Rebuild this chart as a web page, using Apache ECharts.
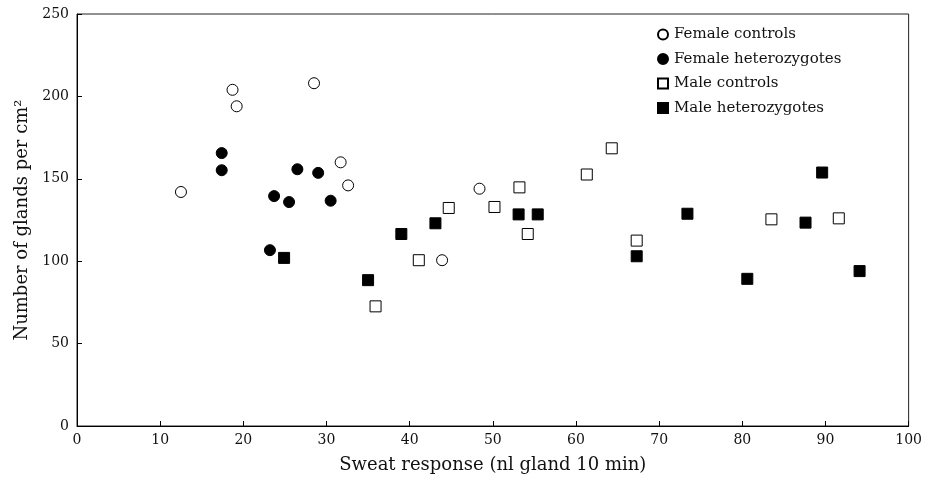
<!DOCTYPE html>
<html><head><meta charset="utf-8">
<script src="https://cdn.jsdelivr.net/npm/echarts@6/dist/echarts.min.js"></script>
<style>html,body{margin:0;padding:0;background:#fff}#c{width:925px;height:479px}</style>
</head><body><div id="c"></div>
<script>
var xTicks = [0,10,20,30,40,50,60,70,80,90,100];
var yTicks = [0,50,100,150,200,250];
var femaleControls = [[12.5,142],[18.7,204],[19.2,194],[28.5,208],[31.7,160],[32.6,146],[48.4,144],[43.9,100.6]];
var femaleHetero = [[17.4,165.6],[17.4,155.2],[26.5,155.8],[29.0,153.6],[23.7,139.5],[25.5,135.9],[30.5,136.7],[23.2,106.7]];
var maleControls = [[64.3,168.5],[61.3,152.6],[53.2,144.8],[44.7,132.3],[50.2,132.9],[54.2,116.5],[41.1,100.6],[67.3,112.5],[35.9,72.6],[83.5,125.4],[91.6,126]];
var maleHetero = [[24.9,102],[35.0,88.5],[39.0,116.5],[43.1,123],[53.1,128.4],[55.4,128.4],[67.3,103],[73.4,128.8],[89.6,153.8],[87.6,123.4],[80.6,89.3],[94.1,94]];
var names = ['Female controls','Female heterozygotes','Male controls','Male heterozygotes'];

var font = 'DejaVu Serif';
var chart = echarts.init(document.getElementById('c'));
function ser(name, data, symbol, filled){
  return {name:name, type:'scatter', data:data, symbol:symbol, symbolSize:11,
    itemStyle:{color: filled?'#000':'#fff', borderColor:'#000', borderWidth:1, opacity:1},
    emphasis:{disabled:true}};
}
chart.setOption({
  animation:false,
  backgroundColor:'#fff',
  grid:{left:77,right:16,top:14,bottom:45,show:true,borderColor:'#222',borderWidth:1,backgroundColor:'transparent'},
  legend:{orient:'vertical',left:652,top:22,itemWidth:10,itemHeight:10,itemGap:9.5,
    textStyle:{fontFamily:font,fontSize:15,lineHeight:15,color:'#111',padding:[0,0,0,1]},
    data:names},
  xAxis:{type:'value',min:0,max:100,interval:10,
    name:'Sweat response (nl gland 10 min)',nameLocation:'middle',nameGap:30,
    nameTextStyle:{fontFamily:font,fontSize:18,color:'#111'},
    axisLine:{lineStyle:{color:'#000'}},
    axisTick:{inside:true,length:5,lineStyle:{color:'#000'}},
    axisLabel:{fontFamily:font,fontSize:14,color:'#111',margin:7},
    splitLine:{show:false}},
  yAxis:{type:'value',min:0,max:250,interval:50,
    name:'Number of glands per cm²',nameLocation:'middle',nameGap:36,
    nameTextStyle:{fontFamily:font,fontSize:18,color:'#111'},
    axisLine:{show:true,lineStyle:{color:'#000'}},
    axisTick:{show:true,inside:true,length:5,lineStyle:{color:'#000'}},
    axisLabel:{fontFamily:font,fontSize:14,color:'#111',margin:8},
    splitLine:{show:false}},
  series:[
    ser(names[0], femaleControls, 'circle', false),
    ser(names[1], femaleHetero, 'circle', true),
    ser(names[2], maleControls, 'rect', false),
    ser(names[3], maleHetero, 'rect', true)
  ]
});
</script></body></html>
